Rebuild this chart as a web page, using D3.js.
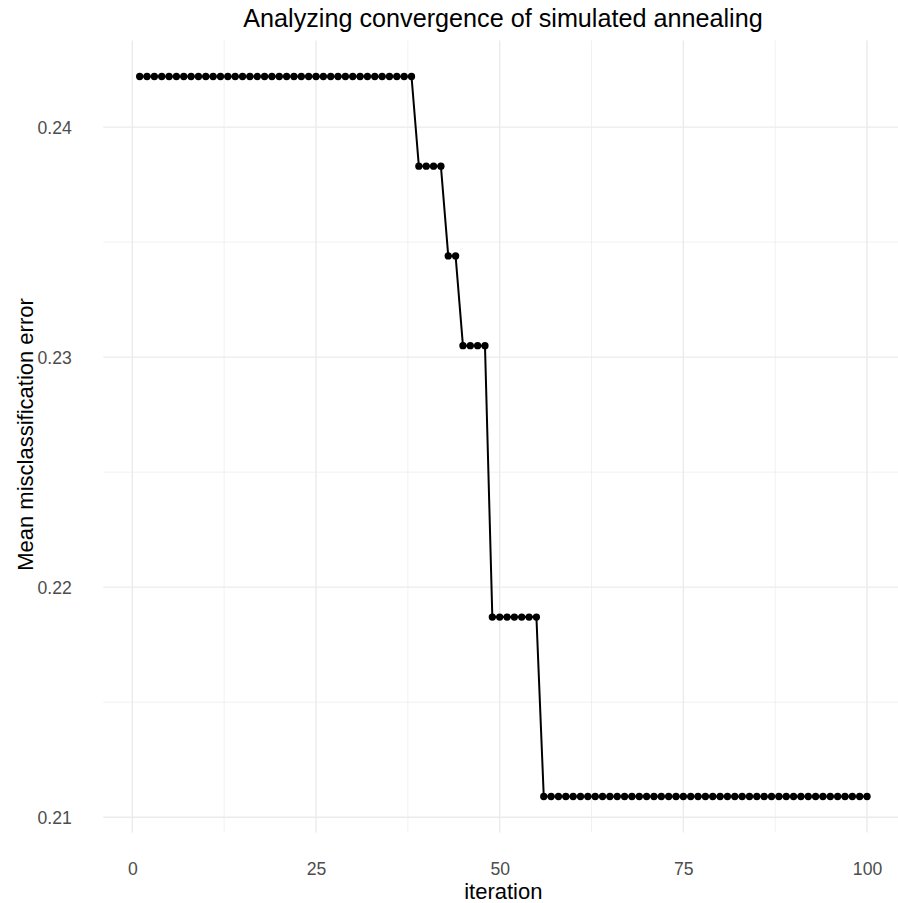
<!DOCTYPE html>
<html><head><meta charset="utf-8">
<script src="https://cdn.jsdelivr.net/npm/d3@7"></script>
<style>body{margin:0;background:#fff}svg{display:block}text{font-family:"Liberation Sans",Arial,sans-serif}</style>
</head><body>
<script>
// Data: misclassification error per iteration (step levels)
const levelStarts = [1, 39, 43, 45, 49, 56];
const levelEnds   = [38, 42, 44, 48, 55, 100];
const levelValues = [0.2422, 0.2383, 0.2344, 0.2305, 0.2187, 0.2109];
const xTicks = [0, 25, 50, 75, 100];
const xMinorTicks = [12.5, 37.5, 62.5, 87.5];
const yTicks = [0.21, 0.22, 0.23, 0.24];
const yMinorTicks = [0.215, 0.225, 0.235];

const iterations = [];
const errors = [];
levelStarts.forEach((s, i) => {
  for (let k = s; k <= levelEnds[i]; k++) { iterations.push(k); errors.push(levelValues[i]); }
});
const data = iterations.map((d, i) => ({x: d, y: errors[i]}));

const W = 898, H = 903;
const panel = {left: 103.3, right: 903.4, top: 40.5, bottom: 832.5};
const xExt = d3.extent(iterations), xPad = (xExt[1]-xExt[0])*0.05;
const yExt = d3.extent(errors), yPad = (yExt[1]-yExt[0])*0.05;
const x = d3.scaleLinear().domain([xExt[0]-xPad, xExt[1]+xPad]).range([panel.left, panel.right]);
const y = d3.scaleLinear().domain([yExt[0]-yPad, yExt[1]+yPad]).range([panel.bottom, panel.top]);

const svg = d3.select("body").append("svg").attr("width", W).attr("height", H);
const g = svg.append("g");

// minor grid
g.selectAll(".vminor").data(xMinorTicks).enter().append("line")
  .attr("x1", d=>x(d)).attr("x2", d=>x(d)).attr("y1", panel.top).attr("y2", panel.bottom)
  .attr("stroke", "#ebebeb").attr("stroke-width", 0.7);
g.selectAll(".hminor").data(yMinorTicks).enter().append("line")
  .attr("x1", panel.left).attr("x2", panel.right).attr("y1", d=>y(d)).attr("y2", d=>y(d))
  .attr("stroke", "#ebebeb").attr("stroke-width", 0.7);
// major grid
g.selectAll(".vmajor").data(xTicks).enter().append("line")
  .attr("x1", d=>x(d)).attr("x2", d=>x(d)).attr("y1", panel.top).attr("y2", panel.bottom)
  .attr("stroke", "#ebebeb").attr("stroke-width", 1.4);
g.selectAll(".hmajor").data(yTicks).enter().append("line")
  .attr("x1", panel.left).attr("x2", panel.right).attr("y1", d=>y(d)).attr("y2", d=>y(d))
  .attr("stroke", "#ebebeb").attr("stroke-width", 1.4);

// axes (text only)
const xAxis = g.append("g").attr("transform", `translate(0,${panel.bottom})`)
  .call(d3.axisBottom(x).tickValues(xTicks).tickSize(0).tickPadding(0).tickFormat(d3.format("d")));
xAxis.select(".domain").remove();
xAxis.selectAll("text").attr("y", 42.7).attr("dy", null).attr("fill", "#4d4d4d")
  .style("font-size", "17.6px").style("font-family", "Liberation Sans, Arial, sans-serif");

const yAxis = g.append("g").attr("transform", `translate(${panel.left},0)`)
  .call(d3.axisLeft(y).tickValues(yTicks).tickSize(0).tickPadding(0).tickFormat(d3.format(".2f")));
yAxis.select(".domain").remove();
yAxis.selectAll("text").attr("x", -31.5).attr("dy", "0.36em").attr("fill", "#4d4d4d")
  .style("font-size", "17.6px").style("font-family", "Liberation Sans, Arial, sans-serif");

// line
g.append("path").datum(data)
  .attr("d", d3.line().x(d=>x(d.x)).y(d=>y(d.y)))
  .attr("fill", "none").attr("stroke", "#000").attr("stroke-width", 2);
// points
g.selectAll(".pt").data(data).enter().append("circle")
  .attr("cx", d=>x(d.x)).attr("cy", d=>y(d.y)).attr("r", 3.65).attr("fill", "#000");

// titles
svg.append("text").attr("x", 503).attr("y", 27)
  .attr("text-anchor", "middle").style("font-size", "25.2px").attr("fill", "#000")
  .text("Analyzing convergence of simulated annealing");
svg.append("text").attr("x", (panel.left+panel.right)/2).attr("y", 899)
  .attr("text-anchor", "middle").style("font-size", "22px").attr("fill", "#000")
  .text("iteration");
svg.append("text").attr("transform", `translate(32.5,434.5) rotate(-90)`)
  .attr("text-anchor", "middle").style("font-size", "22px").attr("fill", "#000")
  .text("Mean misclassification error");
</script>
</body></html>
